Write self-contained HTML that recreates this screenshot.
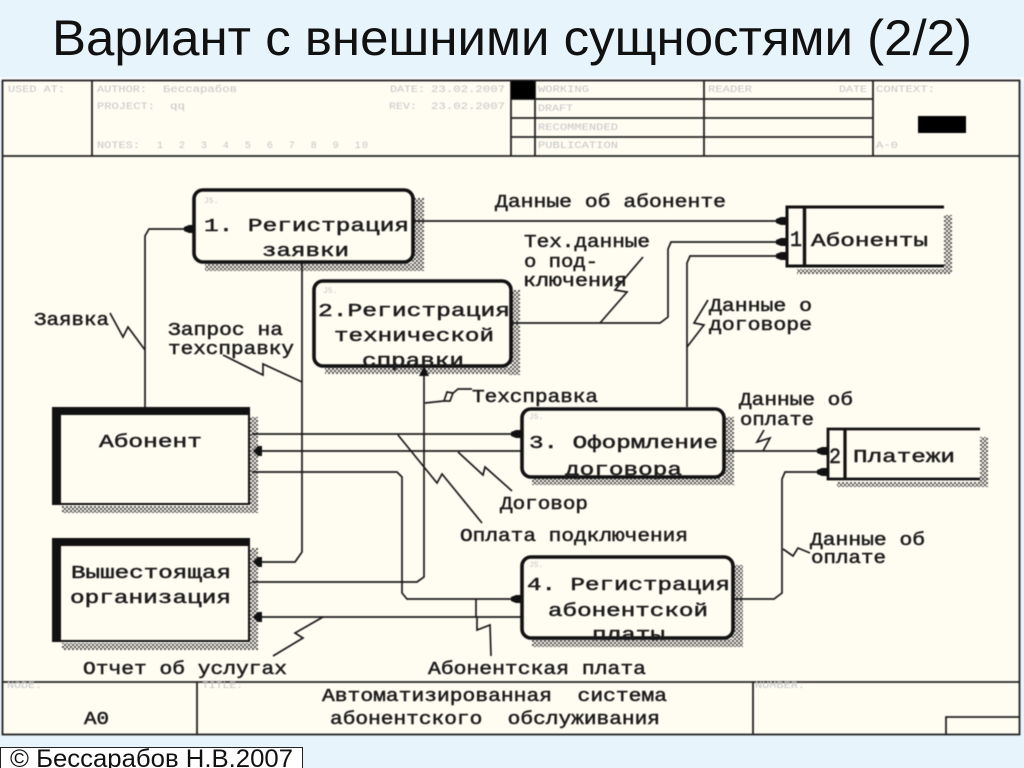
<!DOCTYPE html>
<html lang="ru"><head><meta charset="utf-8"><title>Вариант с внешними сущностями</title>
<style>
html,body{margin:0;padding:0;width:1024px;height:768px;overflow:hidden;background:#e8f4fb}
svg{display:block}
.t{font-family:"Liberation Mono","DejaVu Sans Mono",monospace;font-size:18px;fill:#1c1c1c;font-weight:400;stroke:#1c1c1c;stroke-width:.5}
.g{font-family:"Liberation Mono",monospace;font-size:10px;fill:#c6c6c6}
.l{fill:none;stroke:#1a1a1a;stroke-width:1.7}
.f{fill:none;stroke:#222;stroke-width:1.8}
.b{fill:#fffcf2;stroke:#111;stroke-width:3.6}
.s{fill:url(#h)}
.a{fill:#111}
</style></head><body>
<svg width="1024" height="768" viewBox="0 0 1024 768" xmlns="http://www.w3.org/2000/svg">
<defs>
<pattern id="h" width="4" height="4" patternUnits="userSpaceOnUse">
<rect width="4" height="4" fill="#fffcf2"/><rect width="2" height="2" fill="#555"/><rect x="2" y="2" width="2" height="2" fill="#555"/>
</pattern>
</defs>
<text x="52" y="55" font-family="Liberation Sans,sans-serif" font-size="50" fill="#111" textLength="920" lengthAdjust="spacingAndGlyphs">Вариант с внешними сущностями (2/2)</text>
<rect x="0" y="77" width="1024" height="4" fill="#f6fafc"/>

<g style="filter:blur(.5px)">
<rect x="2.5" y="80.5" width="1017" height="654" fill="#fffcf2" stroke="#222" stroke-width="1.8"/>
<!-- header -->
<path class="f" d="M2 156H1020M92 80V156M511 80V156M535 80V156M704 80V156M873 80V156M511 99H873M511 118H873M511 137H873"/>
<rect x="511" y="81" width="24" height="18" fill="#000"/>
<rect x="918" y="116" width="48" height="17" fill="#000"/>
<!-- footer -->
<path class="f" d="M2 682H1020M197 682V735M753 682V735M946 735V717H1019"/>

<g class="g">
<text x="8" y="92" textLength="57" lengthAdjust="spacingAndGlyphs">USED AT:</text>
<text x="97" y="92" textLength="50" lengthAdjust="spacingAndGlyphs">AUTHOR:</text>
<text x="163" y="92" textLength="74" lengthAdjust="spacingAndGlyphs">Бессарабов</text>
<text x="390" y="92" textLength="35" lengthAdjust="spacingAndGlyphs">DATE:</text>
<text x="431" y="92" textLength="74" lengthAdjust="spacingAndGlyphs">23.02.2007</text>
<text x="97" y="109" textLength="58" lengthAdjust="spacingAndGlyphs">PROJECT:</text>
<text x="170" y="109" textLength="15" lengthAdjust="spacingAndGlyphs">qq</text>
<text x="389" y="109" textLength="28" lengthAdjust="spacingAndGlyphs">REV:</text>
<text x="431" y="109" textLength="74" lengthAdjust="spacingAndGlyphs">23.02.2007</text>
<text x="97" y="148" textLength="43" lengthAdjust="spacingAndGlyphs">NOTES:</text>
<text x="157" y="148" textLength="211" xml:space="preserve">1  2  3  4  5  6  7  8  9  10</text>
<text x="538" y="92" textLength="51" lengthAdjust="spacingAndGlyphs">WORKING</text>
<text x="538" y="111" textLength="35" lengthAdjust="spacingAndGlyphs">DRAFT</text>
<text x="538" y="130" textLength="80" lengthAdjust="spacingAndGlyphs">RECOMMENDED</text>
<text x="538" y="148" textLength="80" lengthAdjust="spacingAndGlyphs">PUBLICATION</text>
<text x="708" y="92" textLength="44" lengthAdjust="spacingAndGlyphs">READER</text>
<text x="839" y="92" textLength="28" lengthAdjust="spacingAndGlyphs">DATE</text>
<text x="876" y="92" textLength="59" lengthAdjust="spacingAndGlyphs">CONTEXT:</text>
<text x="876" y="148" textLength="22" lengthAdjust="spacingAndGlyphs">A-0</text>
<text x="7" y="688" textLength="35" lengthAdjust="spacingAndGlyphs">NODE:</text>
<text x="202" y="688" textLength="41" lengthAdjust="spacingAndGlyphs">TITLE:</text>
<text x="755" y="688" textLength="50" lengthAdjust="spacingAndGlyphs">NUMBER:</text>
</g>

<!-- shadows -->
<g class="s">
<rect x="412" y="198" width="12" height="73"/><rect x="205" y="263" width="219" height="8"/>
<rect x="510" y="290" width="10" height="85"/><rect x="325" y="367" width="195" height="7"/>
<rect x="723" y="417" width="11" height="68"/><rect x="532" y="478" width="202" height="7"/>
<rect x="732" y="565" width="11" height="82"/><rect x="532" y="639" width="211" height="8"/>
<rect x="250" y="417" width="8" height="96"/><rect x="62" y="506" width="196" height="7"/>
<rect x="250" y="548" width="8" height="102"/><rect x="62" y="643" width="196" height="7"/>
<rect x="944" y="215" width="8" height="59"/><rect x="797" y="269" width="155" height="5"/>
<rect x="980" y="437" width="8" height="50"/><rect x="837" y="482" width="151" height="5"/>
</g>

<!-- connectors -->
<path class="l" d="M145 407V236L149 229H186"/>
<path class="l" d="M414 221H780"/>
<path class="l" d="M512 323H660L668 317V249L671 242H780"/>
<path class="l" d="M687 407V263L690 256H780"/>
<path class="l" d="M302 263V552L295 562H258"/>
<path class="l" d="M252 434H515"/>
<path class="l" d="M258 451H521"/>
<path class="l" d="M252 472H397L402 477V593L407 599H515"/>
<path class="l" d="M252 582H417L424 577V372"/>
<path class="l" d="M258 617H521"/>
<path class="l" d="M476 599V617"/>
<path class="l" d="M724 451H821"/>
<path class="l" d="M734 599H774L782 593V479L785 472H821"/>

<!-- squiggles -->
<g class="l">
<polyline points="110,313 123,337 128,327 145,350"/>
<polyline points="223,355 263,375 263,364 302,382"/>
<polyline points="643,257 615,290 627,292 600,323"/>
<polyline points="708,300 694,323 704,325 687,347"/>
<polyline points="425,403 444,401 447,392 453,393 450,401 444,401"/>
<polyline points="452,394 458,389 472,389"/>
<polyline points="398,435 437,483 442,474 482,523"/>
<polyline points="458,452 483,475 485,467 512,491"/>
<polyline points="323,617 295,633 303,638 273,656"/>
<polyline points="764,430 757,442 770,438 763,451"/>
<polyline points="783,549 793,556 798,548 810,553"/>
<polyline points="477,617 477,630 490,625 491,656"/>
</g>

<!-- arrowheads -->
<g class="a">
<path d="M776 219L781 217H786V225H781L776 223Z"/><path d="M776 240L781 238H786V246H781L776 244Z"/><path d="M776 254L781 252H786V260H781L776 258Z"/>
<path d="M184 227L189 225H194V233H189L184 231Z"/><path d="M511 432L516 430H521V438H516L511 436Z"/><path d="M511 597L516 595H521V603H516L511 601Z"/>
<path d="M817 449L822 447H827V455H822L817 453Z"/><path d="M817 470L822 468H827V476H822L817 474Z"/>
<path d="M253 451L258 446H262V456H258Z"/><path d="M253 562L258 557H262V567H258Z"/><path d="M253 617L258 612H262V622H258Z"/>
<path d="M424 366L429 376H419Z"/>
</g>

<!-- boxes -->
<rect class="b" x="194" y="190" width="219" height="72" rx="9"/>
<rect class="b" x="314" y="281" width="197" height="85" rx="9"/>
<rect class="b" x="522" y="409" width="202" height="68" rx="9"/>
<rect class="b" x="522" y="557" width="211" height="81" rx="9"/>

<rect x="52" y="407" width="198" height="98" fill="#111"/><rect x="61" y="415" width="187" height="88" fill="#fffcf2"/>
<rect x="52" y="538" width="198" height="104" fill="#111"/><rect x="61" y="546" width="187" height="94" fill="#fffcf2"/>

<!-- stores -->
<path d="M944 207H787V266H944" fill="#fffcf2" stroke="#111" stroke-width="3"/>
<path d="M804.5 207V266" stroke="#111" stroke-width="3.4"/>
<path d="M980 429H828V479H980" fill="#fffcf2" stroke="#111" stroke-width="2.8"/>
<path d="M845 429V479" stroke="#111" stroke-width="3.2"/>

<g class="g" style="font-size:8px">
<text x="204" y="203">J5.</text><text x="323" y="293">J5.</text><text x="529" y="419">J5.</text><text x="529" y="567">J5.</text>
</g>

<!-- labels -->
<g class="t">
<text x="204" y="231" textLength="205" lengthAdjust="spacingAndGlyphs">1. Регистрация</text>
<text x="262" y="256" textLength="87" lengthAdjust="spacingAndGlyphs">заявки</text>
<text x="318" y="316" textLength="192" lengthAdjust="spacingAndGlyphs">2.Регистрация</text>
<text x="334" y="341" textLength="160" lengthAdjust="spacingAndGlyphs">технической</text>
<text x="362" y="366" textLength="102" lengthAdjust="spacingAndGlyphs">справки</text>
<text x="34" y="325" textLength="75" lengthAdjust="spacingAndGlyphs">Заявка</text>
<text x="168" y="335" textLength="115" lengthAdjust="spacingAndGlyphs">Запрос на</text>
<text x="168" y="354" textLength="126" lengthAdjust="spacingAndGlyphs">техсправку</text>
<text x="495" y="207" textLength="231" lengthAdjust="spacingAndGlyphs">Данные об абоненте</text>
<text x="524" y="247" textLength="126" lengthAdjust="spacingAndGlyphs">Тех.данные</text>
<text x="524" y="267" textLength="74" lengthAdjust="spacingAndGlyphs">о под-</text>
<text x="523" y="286" textLength="104" lengthAdjust="spacingAndGlyphs">ключения</text>
<text x="709" y="311" textLength="103" lengthAdjust="spacingAndGlyphs">Данные о</text>
<text x="709" y="330" textLength="103" lengthAdjust="spacingAndGlyphs">договоре</text>
<text x="790" y="246" style="font-size:22px" textLength="12" lengthAdjust="spacingAndGlyphs">1</text>
<text x="811" y="246" textLength="117" lengthAdjust="spacingAndGlyphs">Абоненты</text>
<text x="99" y="447" textLength="103" lengthAdjust="spacingAndGlyphs">Абонент</text>
<text x="71" y="578" textLength="160" lengthAdjust="spacingAndGlyphs">Вышестоящая</text>
<text x="70" y="603" textLength="161" lengthAdjust="spacingAndGlyphs">организация</text>
<text x="83" y="674" textLength="204" lengthAdjust="spacingAndGlyphs">Отчет об услугах</text>
<text x="428" y="674" textLength="218" lengthAdjust="spacingAndGlyphs">Абонентская плата</text>
<text x="472" y="402" textLength="126" lengthAdjust="spacingAndGlyphs">Техсправка</text>
<text x="529" y="448" textLength="189" lengthAdjust="spacingAndGlyphs">3. Оформление</text>
<text x="565" y="475" textLength="117" lengthAdjust="spacingAndGlyphs">договора</text>
<text x="500" y="509" textLength="88" lengthAdjust="spacingAndGlyphs">Договор</text>
<text x="460" y="541" textLength="228" lengthAdjust="spacingAndGlyphs">Оплата подключения</text>
<text x="527" y="590" textLength="203" lengthAdjust="spacingAndGlyphs">4. Регистрация</text>
<text x="548" y="616" textLength="160" lengthAdjust="spacingAndGlyphs">абонентской</text>
<text x="592" y="640" textLength="73" lengthAdjust="spacingAndGlyphs">платы</text>
<text x="739" y="405" textLength="114" lengthAdjust="spacingAndGlyphs">Данные об</text>
<text x="740" y="425" textLength="74" lengthAdjust="spacingAndGlyphs">оплате</text>
<text x="829" y="463" style="font-size:22px" textLength="12" lengthAdjust="spacingAndGlyphs">2</text>
<text x="853" y="462" textLength="102" lengthAdjust="spacingAndGlyphs">Платежи</text>
<text x="810" y="545" textLength="115" lengthAdjust="spacingAndGlyphs">Данные об</text>
<text x="811" y="563" textLength="75" lengthAdjust="spacingAndGlyphs">оплате</text>
<text x="322" y="701" textLength="345" lengthAdjust="spacingAndGlyphs">Автоматизированная&#160;&#160;система</text>
<text x="330" y="724" textLength="330" lengthAdjust="spacingAndGlyphs">абонентского&#160;&#160;обслуживания</text>
<text x="84" y="724" textLength="25" lengthAdjust="spacingAndGlyphs">A0</text>
</g>
</g>

<rect x="0.5" y="747.5" width="302" height="25" fill="#fff" stroke="#222" stroke-width="1"/>
<text x="10" y="767" font-family="Liberation Sans,sans-serif" font-size="25" fill="#111" textLength="283" lengthAdjust="spacingAndGlyphs">© Бессарабов Н.В.2007</text>
</svg>
</body></html>
